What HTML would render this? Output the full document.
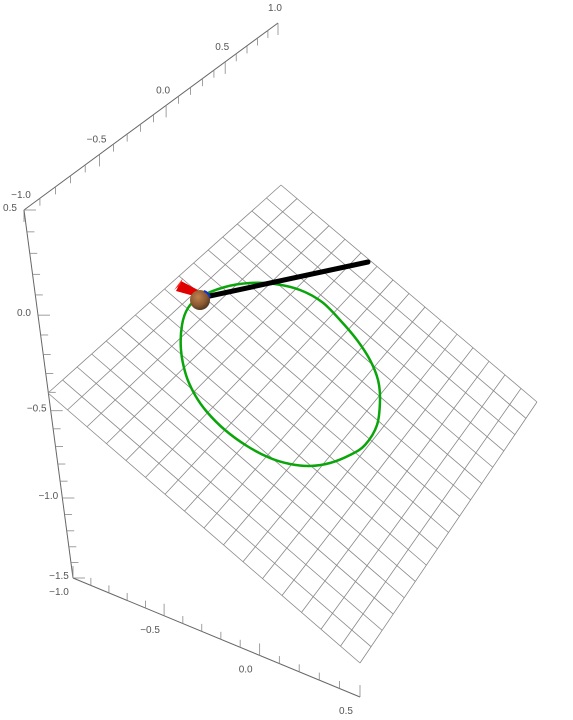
<!DOCTYPE html>
<html><head><meta charset="utf-8"><style>
html,body{margin:0;padding:0;background:#fff;}
svg{display:block;font-family:"Liberation Sans",sans-serif;}
text{font-size:10px;fill:#555;}
</style></head><body>
<svg id="plot" width="573" height="720" viewBox="0 0 573 720">
<defs>
<radialGradient id="ballg" cx="0.4" cy="0.35" r="0.7">
<stop offset="0" stop-color="#c08050"/><stop offset="0.6" stop-color="#8a5a30"/><stop offset="1" stop-color="#4a3020"/>
</radialGradient>
</defs>
<g id="axes"></g>
<g id="grid"></g>
<path id="orbit" fill="none" stroke="#0aa50a" stroke-width="2.5"/>
<line x1="205" y1="297" x2="368" y2="262" stroke="#000" stroke-width="5" stroke-linecap="round"/>
<polygon points="194,296 176,291 181,281 198,290" fill="#e00000"/>
<polygon points="174,290 183,278 180,285" fill="#ff2020"/>
<circle cx="200" cy="300" r="10" fill="url(#ballg)"/>
<path d="M204,291 A10,10 0 0 1 210,297" stroke="#1030d0" stroke-width="2" fill="none"/>
</svg>
<script>
const topTicks=["-1.0","-0.5","0.0","0.5","1.0"];
const leftTicks=["0.5","0.0","-0.5","-1.0","-1.5"];
const botTicks=["-1.0","-0.5","0.0","0.5"];
const gridDiv=16;
const orbitX=[200,225,250,275,300,322,340,357,370,378,380,377,365,350,330,310,290,270,247,225,207,195,186,181,182,188];
const orbitY=[297,287,283,284,290,302,320,340,360,380,400,425,445,455,463,466,464,458,446,430,412,395,375,350,325,308];
const NS="http://www.w3.org/2000/svg";
function mk(tag,attrs,parent){const e=document.createElementNS(NS,tag);for(const k in attrs)e.setAttribute(k,attrs[k]);parent.appendChild(e);return e;}
const axes=document.getElementById('axes');
function persp(s,k){return s*k/(1+(k-1)*s);}
function axis(p0,p1,labels,lblOff,tickDir,name,k){
  const l=mk('line',{x1:p0[0],y1:p0[1],x2:p1[0],y2:p1[1],stroke:'#666','stroke-width':1},axes);
  
  
  const n=labels.length-1;const steps=n*5;
  for(let i=0;i<=steps;i++){
    const t=persp(i/steps,k);const x=p0[0]+(p1[0]-p0[0])*t,y=p0[1]+(p1[1]-p0[1])*t;
    const len=(i%5===0)?4:2.5;
    const tk=mk('line',{x1:x,y1:y,x2:x+tickDir[0]*len,y2:y+tickDir[1]*len,stroke:'#888','stroke-width':0.8},axes);
    
    
  }
  labels.forEach((s,i)=>{
    const t=persp(i/n,k);const x=p0[0]+(p1[0]-p0[0])*t+lblOff[0],y=p0[1]+(p1[1]-p0[1])*t+lblOff[1];
    const tx=mk('text',{x:x,y:y,'text-anchor':'middle'},axes);tx.textContent=s.replace('-','\u2212');
    
    
  });
}
axis([24,210],[278,23],topTicks,[-3,-12],[0,3],'top-axis',1.27);
axis([24,210],[73,578],leftTicks,[-14,1],[3,0],'vertical-axis',1.2);
axis([73,578],[360,697],botTicks,[-14,17],[0,-3],'bottom-axis',0.93);
const grid=document.getElementById('grid');
const T=[281,185],R=[537,402],B=[360,663],L=[48,393];
function P(u,v){
  const a=[T[0]+(R[0]-T[0])*u,T[1]+(R[1]-T[1])*u];
  const b=[L[0]+(B[0]-L[0])*u,L[1]+(B[1]-L[1])*u];
  return [a[0]+(b[0]-a[0])*v,a[1]+(b[1]-a[1])*v];}
for(let i=0;i<=gridDiv;i++){
  const t=i/gridDiv;
  let p=P(t,0),q=P(t,1);
  const g1=mk('line',{x1:p[0],y1:p[1],x2:q[0],y2:q[1],stroke:'#888','stroke-width':0.8},grid);
  
  
  p=P(0,t);q=P(1,t);
  const g2=mk('line',{x1:p[0],y1:p[1],x2:q[0],y2:q[1],stroke:'#888','stroke-width':0.8},grid);
  
  
}
let d='';const n=orbitX.length;
for(let i=0;i<n;i++){
  const p0=[orbitX[(i-1+n)%n],orbitY[(i-1+n)%n]],p1=[orbitX[i],orbitY[i]],p2=[orbitX[(i+1)%n],orbitY[(i+1)%n]],p3=[orbitX[(i+2)%n],orbitY[(i+2)%n]];
  if(i===0)d+='M'+p1[0]+','+p1[1];
  const c1=[p1[0]+(p2[0]-p0[0])/6,p1[1]+(p2[1]-p0[1])/6],c2=[p2[0]-(p3[0]-p1[0])/6,p2[1]-(p3[1]-p1[1])/6];
  d+='C'+c1.join(',')+' '+c2.join(',')+' '+p2.join(',');
}
document.getElementById('orbit').setAttribute('d',d+'Z');
</script>
</body></html>
